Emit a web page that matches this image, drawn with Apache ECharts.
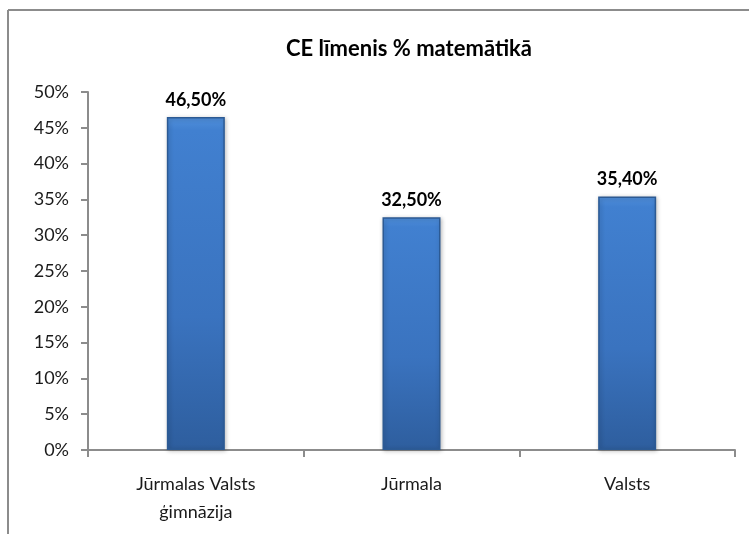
<!DOCTYPE html>
<html>
<head>
<meta charset="utf-8">
<script src="https://cdn.jsdelivr.net/npm/echarts@6/dist/echarts.min.js"></script>
<style>
  html, body { margin: 0; padding: 0; background: #fff; }
  #main { width: 749px; height: 534px; }
</style>
</head>
<body>
<div id="main"></div>
<script>
// dati no attēla
const categories = ['Jūrmalas Valsts\nģimnāzija', 'Jūrmala', 'Valsts'];
const values = [46.5, 32.5, 35.4];
const yTicks = [0, 5, 10, 15, 20, 25, 30, 35, 40, 45, 50];

const font = 'Lato, "Noto Sans", sans-serif';

var myChart = echarts.init(document.getElementById('main'));

myChart.setOption({
  backgroundColor: '#fff',
  animation: false,
  title: {
    text: 'CE līmenis % matemātikā',
    left: 404,
    textAlign: 'center',
    top: 33,
    textStyle: {
      fontFamily: font,
      fontSize: 22,
      fontWeight: 'bold',
      color: '#000'
    }
  },
  grid: {
    left: 88,
    right: 14,
    top: 92,
    bottom: 84
  },
  xAxis: {
    type: 'category',
    data: categories,
    axisLine: { lineStyle: { color: '#8c8c8c', width: 2 } },
    axisTick: { show: true, alignWithLabel: false, length: 7, lineStyle: { color: '#8c8c8c', width: 2 } },
    axisLabel: {
      margin: 20,
      fontFamily: font,
      fontSize: 18,
      lineHeight: 28,
      color: '#1a1a1a'
    }
  },
  yAxis: {
    type: 'value',
    min: yTicks[0],
    max: yTicks[yTicks.length - 1],
    interval: 5,
    splitLine: { show: false },
    axisLine: { show: true, lineStyle: { color: '#8c8c8c', width: 2 } },
    axisTick: { show: true, length: 7, lineStyle: { color: '#8c8c8c', width: 2 } },
    axisLabel: {
      margin: 19,
      fontFamily: font,
      fontSize: 18,
      color: '#1a1a1a',
      formatter: v => v + '%'
    }
  },
  series: [{
    type: 'bar',
    data: values,
    barWidth: 58,
    itemStyle: {
      color: {
        type: 'linear',
        x: 0, y: 0, x2: 0, y2: 1,
        colorStops: [
          { offset: 0, color: '#5090dc' },
          { offset: 0.04, color: '#4180d0' },
          { offset: 0.6, color: '#3a73bf' },
          { offset: 1, color: '#2e5e9e' }
        ]
      },
      borderColor: '#2c5a94',
      borderWidth: 1.5,
      shadowColor: 'rgba(0,0,0,0.25)',
      shadowBlur: 4,
      shadowOffsetX: 1,
      shadowOffsetY: 1
    },
    label: {
      show: true,
      position: 'top',
      distance: 8,
      fontFamily: font,
      fontSize: 18,
      fontWeight: 'bold',
      color: '#000',
      formatter: p => p.value.toFixed(2).replace('.', ',') + '%'
    }
  }],
  graphic: [
    { type: 'line', shape: { x1: 8, y1: 10, x2: 749, y2: 10 }, style: { stroke: '#8c8c8c', lineWidth: 2 } },
    { type: 'line', shape: { x1: 8, y1: 10, x2: 8, y2: 534 }, style: { stroke: '#8c8c8c', lineWidth: 2 } }
  ]
});
</script>
</body>
</html>
